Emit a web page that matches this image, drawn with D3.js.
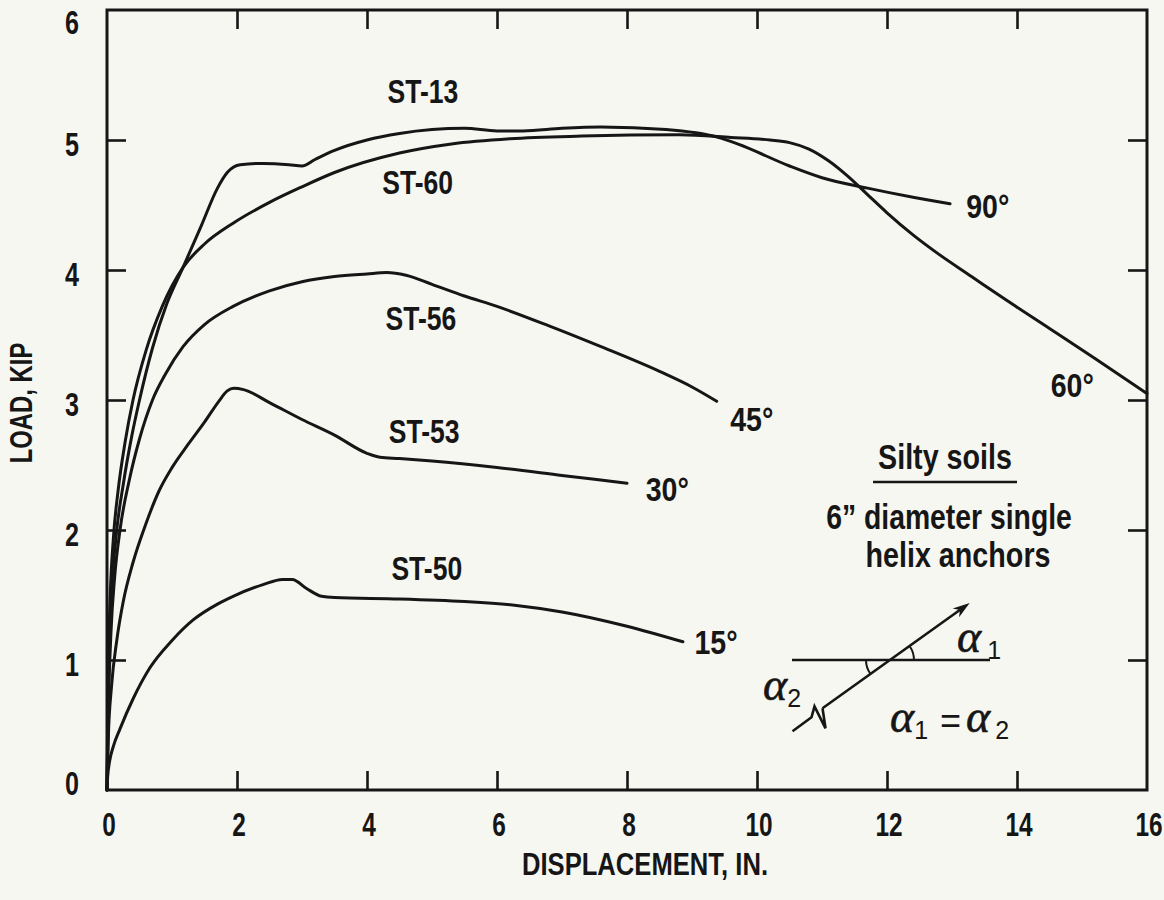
<!DOCTYPE html>
<html>
<head>
<meta charset="utf-8">
<script src="https://cdn.jsdelivr.net/npm/d3@7"></script>
<style>
  html, body { margin: 0; padding: 0; background: #f7f7f1; }
  svg { display: block; }
</style>
</head>
<body>
<svg id="chart" width="1164" height="900"></svg>
<script>
// Axis ticks
const xTickValues = [0, 2, 4, 6, 8, 10, 12, 14, 16];
const yTickValues = [0, 1, 2, 3, 4, 5, 6];

// Load-displacement curves (displacement in., load kip)
const st13X = [0, 0.02, 0.06, 0.14, 0.25, 0.38, 0.5, 0.7, 0.92, 1.17, 1.45, 1.7, 1.85, 2.05, 2.4, 2.8, 3.0, 3.2, 3.5, 4.0, 4.5, 5.0, 5.5, 6.0, 6.4, 7.0, 7.6, 8.6, 9.4, 9.7, 10.5, 11.0, 11.7, 12.4, 12.97];
const st13Y = [0, 0.7, 1.4, 1.95, 2.35, 2.72, 3.0, 3.4, 3.74, 4.02, 4.34, 4.63, 4.75, 4.81, 4.82, 4.81, 4.8, 4.85, 4.92, 5.0, 5.05, 5.08, 5.09, 5.07, 5.07, 5.09, 5.1, 5.08, 5.02, 4.97, 4.8, 4.71, 4.63, 4.56, 4.51];

const st60X = [0, 0.015, 0.05, 0.1, 0.17, 0.28, 0.4, 0.6, 0.85, 1.17, 1.5, 1.94, 2.5, 3.0, 3.5, 4.5, 5.3, 6.2, 7.3, 8.8, 9.6, 10.2, 10.5, 10.8, 11.1, 11.4, 11.7, 12.0, 12.4, 12.8, 13.3, 13.8, 14.5, 15.2, 16.0];
const st60Y = [0, 0.8, 1.5, 1.95, 2.3, 2.68, 3.0, 3.38, 3.72, 4.02, 4.2, 4.36, 4.52, 4.64, 4.75, 4.9, 4.97, 5.01, 5.03, 5.04, 5.02, 5.0, 4.98, 4.93, 4.84, 4.72, 4.58, 4.44, 4.27, 4.12, 3.95, 3.78, 3.55, 3.32, 3.05];

const st56X = [0, 0.02, 0.06, 0.12, 0.2, 0.35, 0.5, 0.7, 0.9, 1.17, 1.5, 1.94, 2.5, 3.0, 3.5, 4.0, 4.3, 4.6, 5.0, 5.5, 6.0, 6.8, 7.6, 8.5, 9.0, 9.38];
const st56Y = [0, 0.6, 1.2, 1.65, 2.0, 2.4, 2.7, 3.0, 3.2, 3.41, 3.58, 3.72, 3.84, 3.91, 3.95, 3.97, 3.98, 3.96, 3.89, 3.8, 3.72, 3.57, 3.41, 3.22, 3.1, 2.99];

const st53X = [0, 0.02, 0.07, 0.15, 0.25, 0.4, 0.6, 0.8, 1.0, 1.25, 1.5, 1.72, 1.85, 1.95, 2.1, 2.5, 3.0, 3.5, 4.0, 4.2, 4.5, 5.0, 6.0, 7.0, 8.0];
const st53Y = [0, 0.4, 0.8, 1.15, 1.45, 1.75, 2.05, 2.3, 2.48, 2.66, 2.83, 2.99, 3.07, 3.09, 3.08, 2.98, 2.85, 2.73, 2.59, 2.56, 2.55, 2.53, 2.48, 2.42, 2.36];

const st50X = [0, 0.01, 0.04, 0.1, 0.2, 0.4, 0.66, 1.0, 1.33, 1.7, 1.94, 2.4, 2.7, 2.85, 3.07, 3.3, 3.5, 4.5, 5.5, 6.3, 7.0, 8.0, 8.86];
const st50Y = [0, 0.1, 0.22, 0.34, 0.47, 0.7, 0.94, 1.15, 1.31, 1.43, 1.49, 1.58, 1.62, 1.62, 1.55, 1.49, 1.48, 1.47, 1.45, 1.42, 1.37, 1.26, 1.14];

const seriesNames = ["ST-13", "ST-60", "ST-56", "ST-53", "ST-50"];
const angleLabels = ["90°", "60°", "45°", "30°", "15°"];
const seriesX = [st13X, st60X, st56X, st53X, st50X];
const seriesY = [st13Y, st60Y, st56Y, st53Y, st50Y];

// Where each curve's name and angle are written (data coordinates)
const nameAt  = [[4.86, 5.38], [4.78, 4.68], [4.83, 3.63], [4.88, 2.76], [4.92, 1.71]];
const angleAt = [[13.55, 4.49], [14.85, 3.11], [9.92, 2.85], [8.62, 2.31], [9.37, 1.13]];

const INK = "#161616";
const BOLD = "'Liberation Sans Narrow', 'Liberation Sans', Arial, sans-serif";
const SANS = "'Liberation Sans', Arial, sans-serif";
const SERIF = "'Liberation Serif', 'DejaVu Serif', serif";

const svg = d3.select("#chart");
svg.append("rect").attr("width", 1164).attr("height", 900).attr("fill", "#f7f7f1");

const x = d3.scaleLinear().domain([0, 16]).range([107, 1147]);
const y = d3.scaleLinear().domain([0, 6]).range([790, 10]);

// Condensed bold label: horizontally squeezed around its anchor point
function label(px, py, str, size, sx, rot) {
  const g = svg.append("g")
    .attr("transform", `translate(${px},${py})${rot ? ` rotate(${rot})` : ""} scale(${sx},1)`);
  return g.append("text")
    .attr("text-anchor", "middle")
    .attr("dominant-baseline", "central")
    .attr("font-family", BOLD)
    .attr("font-weight", "bold")
    .attr("font-size", size)
    .attr("fill", INK)
    .text(str);
}

// Frame
svg.append("rect")
  .attr("x", x(0)).attr("y", y(6))
  .attr("width", x(16) - x(0)).attr("height", y(0) - y(6))
  .attr("fill", "none").attr("stroke", INK).attr("stroke-width", 3);

// Inward ticks on all four sides
const tickLen = 19;
const axB = d3.axisBottom(x).tickValues(xTickValues.slice(1, -1)).tickSize(-tickLen).tickFormat("");
const axT = d3.axisTop(x).tickValues(xTickValues.slice(1, -1)).tickSize(-tickLen).tickFormat("");
const axL = d3.axisLeft(y).tickValues(yTickValues.slice(1, -1)).tickSize(-tickLen).tickFormat("");
const axR = d3.axisRight(y).tickValues(yTickValues.slice(1, -1)).tickSize(-tickLen).tickFormat("");
[[axB, `translate(0,${y(0)})`], [axT, `translate(0,${y(6)})`],
 [axL, `translate(${x(0)},0)`], [axR, `translate(${x(16)},0)`]].forEach(([ax, tr]) => {
  const g = svg.append("g").attr("transform", tr).call(ax);
  g.select(".domain").remove();
  g.selectAll(".tick line").attr("stroke", INK).attr("stroke-width", 2.6);
});

// Tick labels
xTickValues.forEach(v => label(x(v) + 2, 825, String(v), 33, 0.74));
yTickValues.forEach(v => label(72, Math.min(Math.max(y(v) + 4, 22), 783), String(v), 34, 0.74));

// Axis titles
label(645, 864, "DISPLACEMENT, IN.", 32, 0.8);
label(21, 403, "LOAD, KIP", 31, 0.77, -90);

// Curves
const line = d3.line()
  .x(d => x(d[0])).y(d => y(d[1]))
  .curve(d3.curveMonotoneX);

seriesX.forEach((xs, i) => {
  const pts = xs.map((v, j) => [v, seriesY[i][j]]);
  svg.append("path")
    .datum(pts)
    .attr("d", line)
    .attr("fill", "none")
    .attr("stroke", INK)
    .attr("stroke-width", 3)
    .attr("stroke-linejoin", "round")
    .attr("stroke-linecap", "round");
  label(x(nameAt[i][0]), y(nameAt[i][1]), seriesNames[i], 34, 0.78);
  label(x(angleAt[i][0]), y(angleAt[i][1]), angleLabels[i], 34, 0.84);
});

// Note on the test series
label(945, 457, "Silty soils", 35, 0.82);
svg.append("line").attr("x1", 873).attr("x2", 1017).attr("y1", 482).attr("y2", 482)
  .attr("stroke", INK).attr("stroke-width", 2.5);
label(949, 517, "6” diameter single", 35, 0.81);
label(958, 555, "helix anchors", 35, 0.82);

// Inclination sketch: reference line at load 1, anchor shaft through it
const cx = 890, cy = y(1);
svg.append("line").attr("x1", 792).attr("x2", 990).attr("y1", cy).attr("y2", cy)
  .attr("stroke", INK).attr("stroke-width", 2.6);
const ang = 35.6 * Math.PI / 180;
const ux = Math.cos(ang), uy = -Math.sin(ang);
const tip = [cx + 98 * ux, cy + 98 * uy];
const tail = [cx - 83 * ux, cy - 83 * uy];
svg.append("line")
  .attr("x1", tail[0]).attr("y1", tail[1])
  .attr("x2", tip[0] - 10 * ux).attr("y2", tip[1] - 10 * uy)
  .attr("stroke", INK).attr("stroke-width", 2.6);
// arrow head
const nx = -uy, ny = ux;
const hl = 17, hw = 5.5;
svg.append("path")
  .attr("d", `M${tip[0]},${tip[1]}
    L${tip[0] - hl * ux + hw * nx},${tip[1] - hl * uy + hw * ny}
    L${tip[0] - 12 * ux},${tip[1] - 12 * uy}
    L${tip[0] - hl * ux - hw * nx},${tip[1] - hl * uy - hw * ny}Z`)
  .attr("fill", INK);
// break symbol at the cut end of the shaft
const [tx, ty] = tail;
svg.append("path")
  .attr("d", `M${tx},${ty} L${tx + 3},${ty + 20} L${tx - 8},${ty - 2} L${tx - 11},${ty + 9} L${tx - 30},${ty + 23}`)
  .attr("fill", "none").attr("stroke", INK).attr("stroke-width", 2.6)
  .attr("stroke-linejoin", "miter");
// angle arcs
[Math.PI / 2, -Math.PI / 2].forEach(a0 => {
  svg.append("path")
    .attr("transform", `translate(${cx},${cy})`)
    .attr("d", d3.arc()({innerRadius: 24, outerRadius: 24, startAngle: a0 - ang, endAngle: a0}))
    .attr("fill", "none").attr("stroke", INK).attr("stroke-width", 2);
});

// Greek angle symbols
function alpha(px, py, sub, subDx) {
  const t = svg.append("text").attr("x", px).attr("y", py).attr("fill", INK);
  t.append("tspan").attr("font-family", SERIF).attr("font-style", "italic")
    .attr("font-size", 46).attr("stroke", INK).attr("stroke-width", 0.6).text("α");
  t.append("tspan").attr("font-family", SANS)
    .attr("font-size", 25).attr("dx", subDx).attr("dy", 7).text(sub);
  return t;
}
alpha(957, 652, "1", 6);
alpha(763, 700, "2", 0);
alpha(890, 732, "1", 0);
svg.append("text").attr("x", 940).attr("y", 733).attr("fill", INK)
  .attr("font-family", SANS).attr("font-size", 36).text("=");
alpha(966, 732, "2", 5);
</script>
</body>
</html>
